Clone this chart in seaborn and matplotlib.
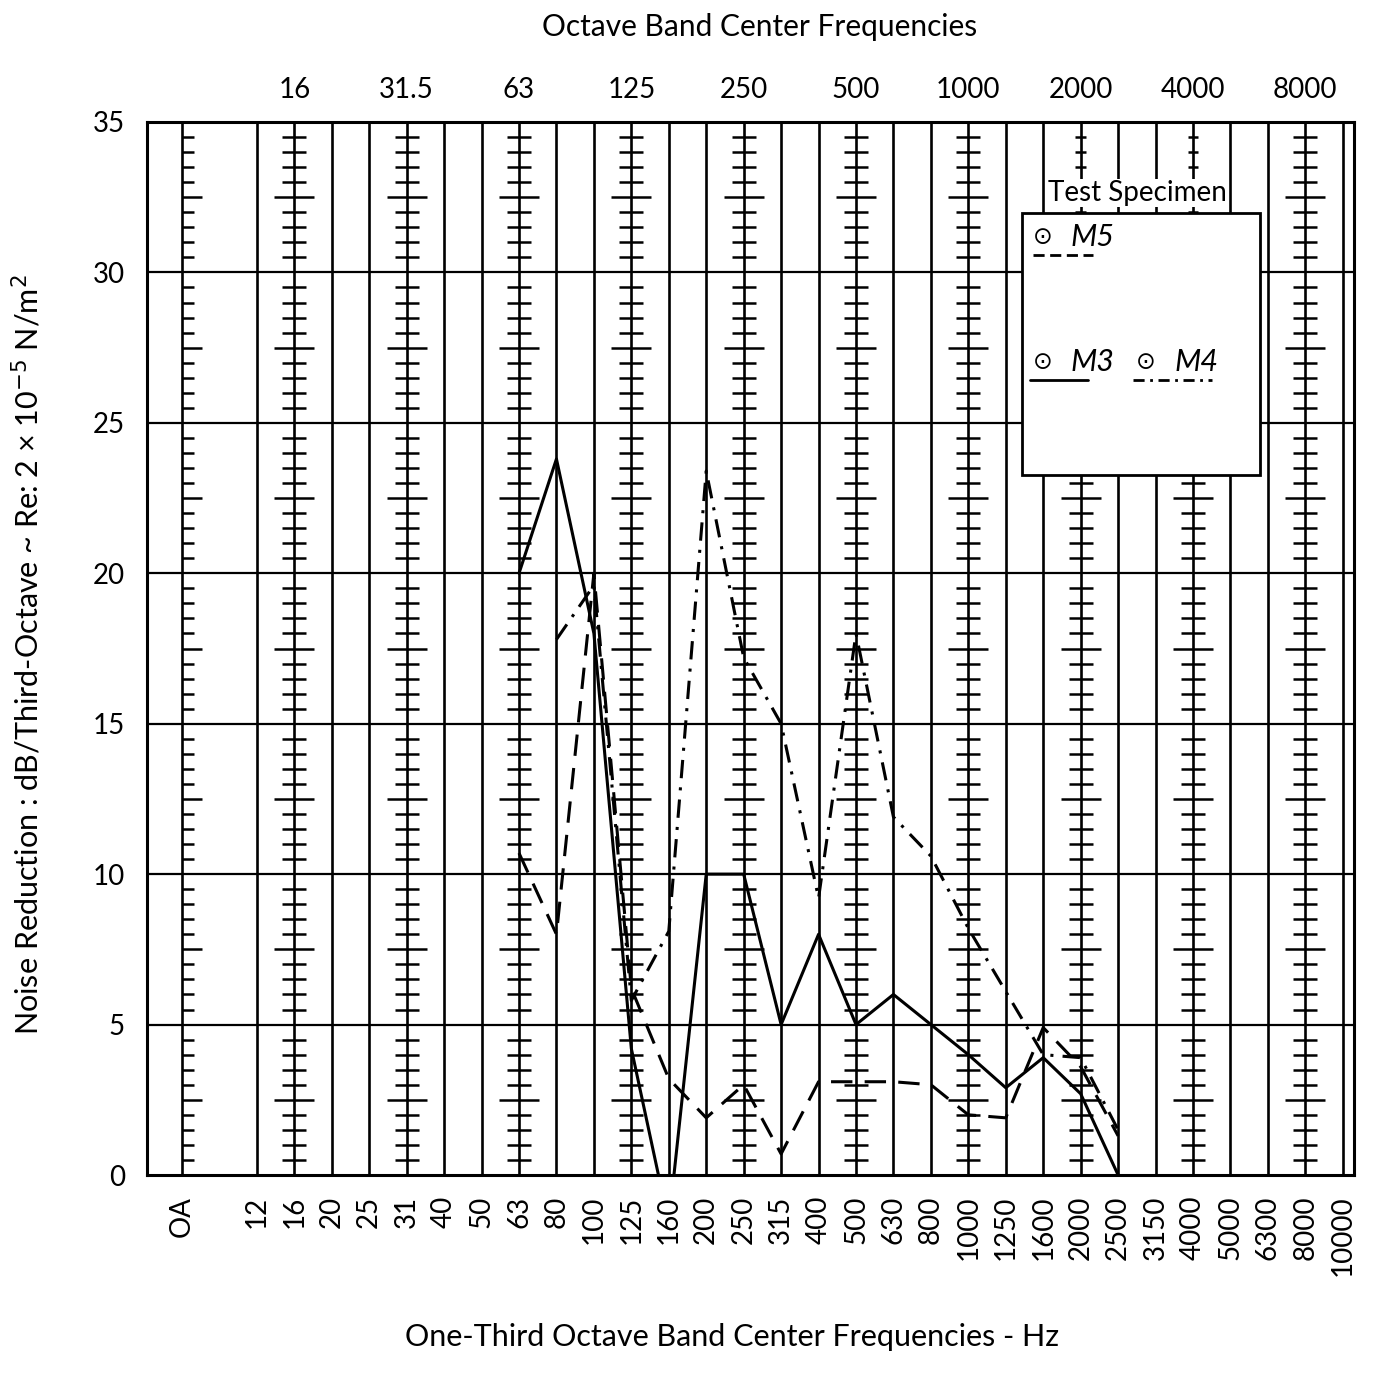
import numpy as np
import pandas as pd
import matplotlib
matplotlib.use("Agg")
import matplotlib.pyplot as plt
import seaborn as sns
from matplotlib.patches import Rectangle

# ---------------- data ----------------
bands = ["OA", "", "12", "16", "20", "25", "31", "40", "50", "63", "80", "100",
         "125", "160", "200", "250", "315", "400", "500", "630", "800", "1000",
         "1250", "1600", "2000", "2500", "3150", "4000", "5000", "6300", "8000", "10000"]
octave_bands = ["16", "31", "63", "125", "250", "500", "1000", "2000", "4000", "8000"]
octave_labels = ["16", "31.5", "63", "125", "250", "500", "1000", "2000", "4000", "8000"]

series_freqs = ["63", "80", "100", "125", "160", "200", "250", "315", "400", "500",
                "630", "800", "1000", "1250", "1600", "2000", "2500"]
m3 = [20.0, 23.8, 18.0, 4.2, -1.6, 10.0, 10.0, 5.0, 8.0, 5.0, 6.0, 5.0, 4.0, 2.9, 3.9, 2.7, 0.0]
m5 = [10.7, 8.0, 20.0, 6.2, 3.2, 1.9, 3.0, 0.7, 3.1, 3.1, 3.1, 3.0, 2.0, 1.9, 4.9, 3.6, 1.3]
m4 = [np.nan, 17.8, 19.6, 5.8, 8.1, 23.4, 17.2, 15.0, 9.2, 18.0, 11.9, 10.6, 8.2, 6.1, 4.0, 3.9, 1.5]

y_ticks = [0, 5, 10, 15, 20, 25, 30, 35]

# ---------------- style ----------------
sns.set_theme(style="white")
plt.rcParams["font.family"] = ["Lato", "DejaVu Sans"]
plt.rcParams["mathtext.fontset"] = "dejavusans"
plt.rcParams["text.color"] = "black"
plt.rcParams["xtick.color"] = "black"
plt.rcParams["ytick.color"] = "black"

pos = {b: i for i, b in enumerate(bands) if b}
df = pd.DataFrame({
    "x": [pos[f] for f in series_freqs],
    "M3": m3, "M4": m4, "M5": m5,
})

W, H = 1374, 1384
fig = plt.figure(figsize=(W / 100, H / 100), dpi=100)
ax = fig.add_axes([147 / W, 1 - 1175 / H, (1354 - 147) / W, (1175 - 122) / H])

# grid: vertical lines on every band, horizontal every 5
for b, i in pos.items():
    ax.axvline(i, color="black", lw=1.9, zorder=1)
for v in y_ticks[1:-1]:
    ax.axhline(v, color="black", lw=1.6, zorder=1)

# cross ticks on octave columns every 0.5 unit
tv = np.array([v for v in np.arange(0.5, 35, 0.5) if v % 5 != 0])
hw = np.where(np.isclose(tv % 5, 2.5), 0.53, 0.32)
for b in octave_bands:
    p = pos[b]
    h = hw.copy()
    if b in ("2000", "4000"):
        h = np.where(tv > 31.5, 0.14, h)
    ax.hlines(tv, p - h, p + h, color="black", lw=1.8, zorder=1)
# OA column: ticks on the right side only
ax.hlines(tv, pos["OA"], pos["OA"] + hw, color="black", lw=1.8, zorder=1)

# data lines
sns.lineplot(data=df, x="x", y="M3", ax=ax, color="black", lw=2.2,
             estimator=None, sort=False, zorder=3)
sns.lineplot(data=df, x="x", y="M5", ax=ax, color="black", lw=2.2,
             estimator=None, sort=False, zorder=3)
sns.lineplot(data=df.dropna(subset=["M4"]), x="x", y="M4", ax=ax, color="black", lw=2.2,
             estimator=None, sort=False, zorder=3)
lines = ax.get_lines()
lines[-2].set_linestyle((0, (7, 4)))
lines[-1].set_linestyle((0, (6, 3, 1, 3)))

ax.set_xlim(-0.935, 31.3)
ax.set_ylim(0, 35)
ax.set_xlabel("")
ax.set_ylabel("")

ax.set_yticks(y_ticks)
ax.set_yticklabels([str(v) for v in y_ticks], fontsize=20)
tick_pos = [pos[b] for b in bands if b]
ax.set_xticks(tick_pos)
ax.set_xticklabels([b for b in bands if b], rotation=90, fontsize=20)
ax.tick_params(axis="both", length=0)
ax.tick_params(axis="y", pad=16)
ax.tick_params(axis="x", pad=15)

for s in ax.spines.values():
    s.set_color("black")
    s.set_linewidth(2.2)

sec = ax.secondary_xaxis("top")
sec.set_xticks([pos[b] for b in octave_bands])
sec.set_xticklabels(octave_labels, fontsize=20)
sec.tick_params(length=0, pad=14)
sec.spines["top"].set_visible(False)

# legend box (drawn manually to match the layout)
bx0, bx1 = (1022 - 147) / 1207, (1260 - 147) / 1207
by0, by1 = (1175 - 475) / 1053, (1175 - 213) / 1053
ax.add_patch(Rectangle((bx0, by0), bx1 - bx0, by1 - by0, transform=ax.transAxes,
                       facecolor="white", edgecolor="black", lw=2, zorder=5))
ax.text((1137 - 147) / 1207, (1175 - 193) / 1053, "Test Specimen", transform=ax.transAxes,
        ha="center", va="center", fontsize=20, zorder=6,
        bbox=dict(facecolor="white", edgecolor="none", pad=1))


def ax_x(px):
    return (px - 147) / 1207


def ax_y(py):
    return (1175 - py) / 1053


leg = [
    ("M5", 1043, 237, 1033, 1093, 255, (0, (4, 2))),
    ("M3", 1043, 362, 1030, 1088, 380, "-"),
    ("M4", 1146, 362, 1133, 1212, 380, (0, (4, 2, 1, 2))),
]
for name, sx, sy, l0, l1, ly, ls in leg:
    ax.text(ax_x(sx), ax_y(sy), "\u2299", transform=ax.transAxes, ha="center",
            va="center", fontsize=17, family="DejaVu Sans", zorder=7)
    ax.text(ax_x(sx + 28), ax_y(sy), name, transform=ax.transAxes, ha="left",
            va="center", fontsize=22, style="italic", zorder=7)
    ax.plot([ax_x(l0), ax_x(l1)], [ax_y(ly), ax_y(ly)], transform=ax.transAxes,
            color="black", lw=2, linestyle=ls, zorder=7)

# titles and axis labels
fig.text(760 / W, 1 - 27 / H, "Octave Band Center Frequencies", ha="center", va="center",
         fontsize=21.5)
fig.text(732 / W, 1 - 1337 / H, "One-Third Octave Band Center Frequencies - Hz",
         ha="center", va="center", fontsize=22)
fig.text(27 / W, 1 - 655 / H,
         "Noise Reduction : dB/Third-Octave ~ Re: 2 \u00d7 10$^{-5}$ N/m$^{2}$",
         ha="center", va="center", rotation=90, fontsize=22)

fig.savefig("out.png", dpi=100, facecolor="white")
